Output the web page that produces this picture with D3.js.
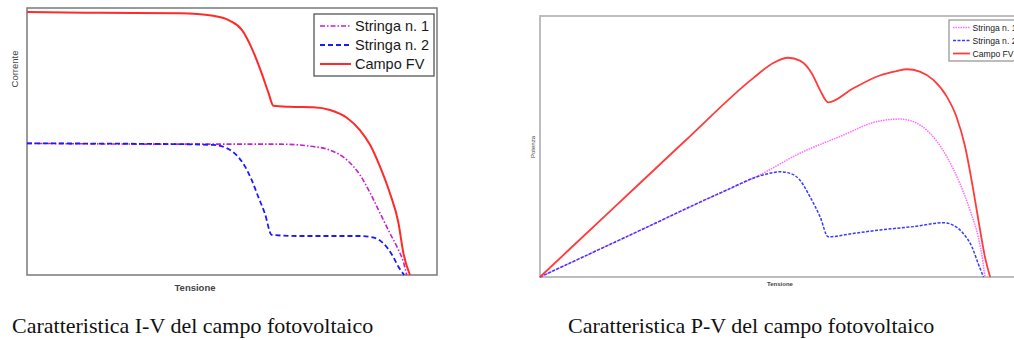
<!DOCTYPE html>
<html>
<head>
<meta charset="utf-8">
<script src="https://cdn.jsdelivr.net/npm/d3@7"></script>
<style>
  body { margin: 0; background: #fff; }
  svg { display: block; }
  .frame-iv { fill: none; stroke: #7a7a7a; stroke-width: 1.5; }
  .frame-pv { fill: none; stroke: #bdbdbd; stroke-width: 2; }
  .axis-label { font-family: "Liberation Sans", Arial, sans-serif; fill: #444; }
  .caption { font-family: "Liberation Serif", "Times New Roman", serif; font-size: 22px; fill: #111; }
</style>
</head>
<body>
<svg id="chart" width="1014" height="340"></svg>
<script>
// values: tension 0..100, current / power 0..100 (no units shown)
var seriesNames = ["Stringa n. 1", "Stringa n. 2", "Campo FV"];

var ivStringa1 = [[0,49.3],[37.3,49.0],[61.7,49.0],[69.8,48.1],[73.9,46.8],[78.0,43.1],[81.2,37.5],
  [83.7,30.7],[86.1,23.2],[88.5,15.7],[90.6,9.4],[91.8,4.9],[92.6,0]];
var ivStringa2 = [[0,49.3],[37.3,49.0],[45.4,48.7],[48.7,47.5],[51.1,44.9],[53.2,40.6],[54.8,35.6],
  [56.4,29.3],[58.0,23.1],[59.7,15.0],[66.6,14.6],[81.2,14.6],[84.4,14.1],[86.9,11.9],[89.3,6.9],
  [90.6,3.1],[92.0,0]];
var ivCampo = [[0,98.5],[17.8,98.2],[37.3,98.0],[45.4,97.1],[49.5,95.2],[52.4,91.8],[54.8,85.0],
  [57.2,75.7],[58.9,68.2],[60.1,63.4],[64.1,63.0],[69.8,62.8],[73.9,61.8],[78.0,58.9],[81.2,54.3],
  [83.7,48.7],[86.1,40.6],[88.5,30.7],[90.6,19.5],[91.8,8.2],[93.4,0]];

var pvStringa1 = [[0,0],[20,17.2],[37.3,32.1],[45.6,39.1],[53.9,47.4],[62.2,53.8],[70.5,59.8],[74.7,60.5],
  [77.5,59.5],[80.9,55.1],[84.4,46.1],[87.1,35.9],[89.2,25.7],[90.9,15.4],[91.9,5.7],[92.3,0]];
var pvStringa2 = [[0,0],[20,17.2],[37.3,32.1],[46.3,39.1],[49.8,40.3],[51.9,39.7],[53.9,37.2],[56.0,30.8],
  [58.1,23.1],[59.8,15.4],[65.0,16.7],[70.5,18.0],[77.4,19.3],[83.7,20.8],[85.7,19.9],[87.8,16.7],
  [89.6,11.6],[90.9,5.2],[92.0,0]];
var pvCampo = [[0,0],[15,26.0],[30,52.0],[44.3,76.3],[48.4,82.0],[51.5,84.0],
  [53.9,82.9],[56.4,78.0],[58.1,71.6],[59.8,66.9],[65.0,72.3],[70.5,77.2],[74.0,78.9],[76.1,79.6],
  [78.8,78.7],[81.6,75.5],[84.4,69.1],[86.4,61.4],[88.2,49.9],[89.9,33.3],[91.3,18.0],[92.3,7.8],[93.4,0]];

var captions = ["Caratteristica I-V del campo fotovoltaico", "Caratteristica P-V del campo fotovoltaico"];

var svg = d3.select("#chart");

function drawPanel(p) {
    var x = d3.scaleLinear().domain([0, 100]).range([p.left, p.right]);
    var y = d3.scaleLinear().domain([0, 100]).range([p.bottom, p.top]);
    var g = svg.append("g");

    g.append("rect")
        .attr("class", p.frameClass)
        .attr("x", p.left).attr("y", p.top)
        .attr("width", p.right - p.left).attr("height", p.bottom - p.top);

    var line = d3.line()
        .x(function(d) { return x(d[0]); })
        .y(function(d) { return y(d[1]); })
        .curve(d3.curveMonotoneX);

    g.selectAll("path.curve")
        .data(p.series)
        .enter()
        .append("path")
        .attr("class", "curve")
        .attr("d", function(d) { return line(d.values); })
        .attr("fill", "none")
        .attr("stroke", function(d) { return d.color; })
        .attr("stroke-width", function(d) { return d.width; })
        .attr("stroke-dasharray", function(d) { return d.dash; });

    // axis titles
    g.append("text")
        .attr("class", "axis-label")
        .attr("x", (p.left + p.right) / 2 + p.xLabelShift)
        .attr("y", p.bottom + p.xLabelGap)
        .attr("text-anchor", "middle")
        .attr("font-size", p.labelSize)
        .attr("font-weight", "bold")
        .text("Tensione");
    g.append("text")
        .attr("class", "axis-label")
        .attr("transform", "translate(" + p.yLabelX + "," + p.yLabelY + ") rotate(-90)")
        .attr("text-anchor", "middle")
        .attr("font-size", p.labelSize)
        .text(p.yTitle);

    // legend
    var lg = p.legend;
    g.append("rect")
        .attr("x", lg.x).attr("y", lg.y)
        .attr("width", lg.w).attr("height", lg.h)
        .attr("fill", "#fff")
        .attr("stroke", lg.stroke)
        .attr("stroke-width", 1.3);
    var rows = g.selectAll("g.legend-row")
        .data(p.series)
        .enter()
        .append("g")
        .attr("class", "legend-row")
        .attr("transform", function(d, i) {
            return "translate(" + lg.x + "," + (lg.y + lg.first + i * lg.step) + ")";
        });
    rows.append("line")
        .attr("x1", lg.lineX1).attr("x2", lg.lineX2)
        .attr("y1", 0).attr("y2", 0)
        .attr("stroke", function(d) { return d.color; })
        .attr("stroke-width", function(d) { return d.width; })
        .attr("stroke-dasharray", function(d) { return d.dash; });
    rows.append("text")
        .attr("x", lg.textX)
        .attr("y", lg.fontSize * 0.36)
        .attr("font-family", "Liberation Sans, Arial, sans-serif")
        .attr("font-size", lg.fontSize)
        .attr("fill", "#1a1a1a")
        .text(function(d) { return d.name; });

    svg.append("text")
        .attr("class", "caption")
        .attr("x", p.captionX)
        .attr("y", 333)
        .text(p.caption);
}

drawPanel({
    left: 27, right: 437, top: 8, bottom: 275,
    frameClass: "frame-iv",
    yTitle: "Corrente", labelSize: 9.5,
    xLabelShift: -37, xLabelGap: 16, yLabelX: 18, yLabelY: 69,
    caption: captions[0], captionX: 12,
    legend: { x: 314, y: 14, w: 120, h: 62, stroke: "#555", first: 12, step: 19,
              lineX1: 6, lineX2: 37, textX: 41, fontSize: 14.5 },
    series: [
        { name: seriesNames[0], values: ivStringa1, color: "#c71fd0", width: 1.6, dash: "5,2,1.5,2" },
        { name: seriesNames[1], values: ivStringa2, color: "#1a1aff", width: 1.8, dash: "5,3" },
        { name: seriesNames[2], values: ivCampo, color: "#ff2a2a", width: 2, dash: null }
    ]
});

drawPanel({
    left: 540, right: 1022, top: 16, bottom: 277,
    frameClass: "frame-pv",
    yTitle: "Potenza", labelSize: 6,
    xLabelShift: -1, xLabelGap: 9, yLabelX: 535, yLabelY: 147,
    caption: captions[1], captionX: 568,
    legend: { x: 949, y: 20, w: 80, h: 41, stroke: "#999", first: 7.5, step: 13,
              lineX1: 4, lineX2: 21, textX: 23.5, fontSize: 8.6 },
    series: [
        { name: seriesNames[0], values: pvStringa1, color: "#ff6bff", width: 1.5, dash: "1.5,1" },
        { name: seriesNames[1], values: pvStringa2, color: "#3a3aff", width: 1.5, dash: "3,1.5" },
        { name: seriesNames[2], values: pvCampo, color: "#ff3b3b", width: 1.8, dash: null }
    ]
});
</script>
</body>
</html>
